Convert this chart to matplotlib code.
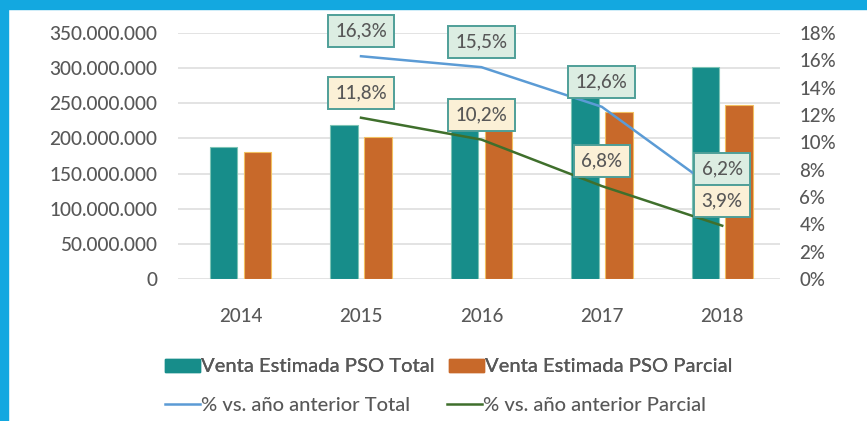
import numpy as np
import matplotlib.pyplot as plt
from matplotlib.patches import Rectangle, Patch
from matplotlib.lines import Line2D

plt.rcParams["font.family"] = ["Lato", "DejaVu Sans"]
plt.rcParams["font.weight"] = 500

years = ["2014", "2015", "2016", "2017", "2018"]
venta_total = [188.0e6, 218.6e6, 252.5e6, 284.3e6, 301.9e6]
venta_parcial = [181.0e6, 202.4e6, 223.0e6, 238.2e6, 247.5e6]
pct_years = ["2015", "2016", "2017", "2018"]
pct_total = [16.3, 15.5, 12.6, 6.2]
pct_parcial = [11.8, 10.2, 6.8, 3.9]

teal = "#178d8a"
orange = "#c8692a"
blue = "#5b9bd5"
green = "#3f6f2c"
txt = "#585858"

fig = plt.figure(figsize=(8.67, 4.21), dpi=100)
fig.patch.set_facecolor("white")
ax = fig.add_axes([178 / 867, 1 - 279 / 421, 602 / 867, 246 / 421])

x = np.arange(len(years))
w = 0.228
off = 0.141
ax.bar(x - off, venta_total, w, color=teal, edgecolor="#7cc3b5", linewidth=0.8, zorder=2)
ax.bar(x + off, venta_parcial, w, color=orange, edgecolor="#f2c060", linewidth=0.8, zorder=2)

ax.set_ylim(0, 350e6)
ax.set_xlim(-0.52, 4.48)
yt = np.arange(0, 350e6 + 1, 50e6)
ax.set_yticks(yt)
ax.set_yticklabels([f"{int(v):,}".replace(",", ".") for v in yt])
ax.set_xticks(x)
ax.set_xticklabels(years)
ax.grid(axis="y", color="#dedede", linewidth=1.2, zorder=0)
ax.set_axisbelow(True)
for s in ax.spines.values():
    s.set_visible(False)
ax.tick_params(axis="y", length=0, pad=15, labelsize=13.7, labelcolor=txt)
ax.tick_params(axis="x", length=0, pad=21, labelsize=13.5, labelcolor=txt)

ax2 = ax.twinx()
px = [years.index(y) for y in pct_years]
ax2.plot(px, pct_total, color=blue, linewidth=1.8, zorder=3)
ax2.plot(px, pct_parcial, color=green, linewidth=1.8, zorder=3)
ax2.set_ylim(0, 18)
ax2.set_yticks(np.arange(0, 19, 2))
ax2.set_yticklabels([f"{v}%" for v in range(0, 19, 2)])
for s in ax2.spines.values():
    s.set_visible(False)
ax2.tick_params(axis="y", length=0, pad=14, labelsize=13.5, labelcolor=txt)

for xi, v in zip(px, pct_total):
    ax2.annotate(f"{v:.1f}%".replace(".", ","), (xi, v), xytext=(0, 18),
                 textcoords="offset points", ha="center", va="center",
                 fontsize=13.5, color=txt, zorder=5,
                 bbox=dict(boxstyle="square,pad=0.4", fc="#dcede2", ec="#4f9f98", lw=1.4))
for xi, v in zip(px, pct_parcial):
    ax2.annotate(f"{v:.1f}%".replace(".", ","), (xi, v), xytext=(0, 18),
                 textcoords="offset points", ha="center", va="center",
                 fontsize=13.5, color=txt, zorder=5,
                 bbox=dict(boxstyle="square,pad=0.4", fc="#fbf0d6", ec="#4f9f98", lw=1.4))

row1 = [Patch(color=teal), Patch(color=orange)]
leg1 = fig.legend(row1, ["Venta Estimada PSO Total", "Venta Estimada PSO Parcial"],
                  ncol=2, loc="center left", bbox_to_anchor=(165 / 867, 1 - 367 / 421),
                  frameon=False, fontsize=14.5, handlelength=1.75, handleheight=0.6,
                  handletextpad=0.05, columnspacing=0.7, borderpad=0, borderaxespad=0,
                  labelcolor=txt)
row2 = [Line2D([], [], color=blue, lw=1.8), Line2D([], [], color=green, lw=1.8)]
leg2 = fig.legend(row2, ["% vs. año anterior Total", "% vs. año anterior Parcial"],
                  ncol=2, loc="center left", bbox_to_anchor=(165 / 867, 1 - 405 / 421),
                  frameon=False, fontsize=14.5, handlelength=1.75,
                  handletextpad=0.05, columnspacing=1.8, borderpad=0, borderaxespad=0,
                  labelcolor=txt)
fig.add_artist(leg1)

border = "#13a8e0"
fig.patches.append(Rectangle((0, 1 - 9 / 421), 1, 9 / 421, transform=fig.transFigure,
                             color=border, zorder=10))
fig.patches.append(Rectangle((0, 0), 8 / 867, 1, transform=fig.transFigure,
                             color=border, zorder=10))

fig.savefig("out.png", dpi=100)
